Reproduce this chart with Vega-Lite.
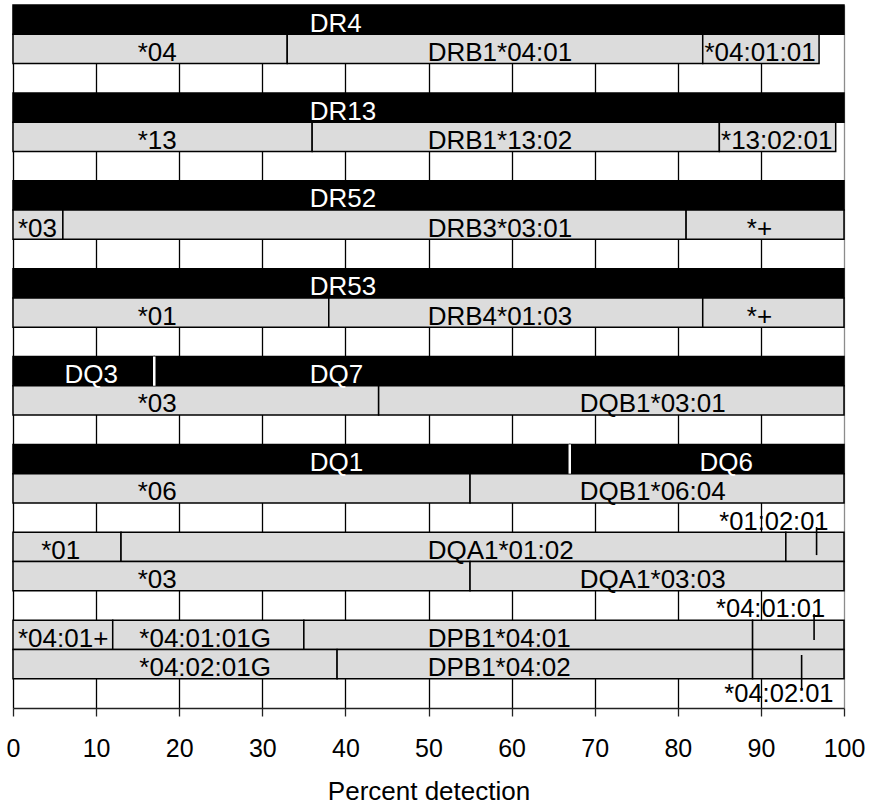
{
  "$schema": "https://vega.github.io/schema/vega-lite/v6.json",
  "width": 831,
  "height": 703,
  "autosize": {"type": "none"},
  "padding": {"left": 13, "top": 5, "right": 27, "bottom": 98},
  "background": "white",
  "config": {
    "view": {"stroke": null},
    "font": "Liberation Sans",
    "axisX": {
      "tickCount": 10,
      "grid": true,
      "gridColor": {"condition": {"test": "datum.value == 100", "value": "#8c8c8c"}, "value": "#000000"},
      "gridWidth": 1.3,
      "gridOpacity": 1,
      "domainColor": "#222222",
      "domainWidth": 1.5,
      "tickColor": "#222222",
      "tickWidth": 1.3,
      "tickSize": 8,
      "labelFont": "Liberation Sans",
      "labelFontSize": 25,
      "labelColor": "#000000",
      "labelPadding": 20,
      "labelFlush": false,
      "labelOverlap": false,
      "titleFont": "Liberation Sans",
      "titleFontSize": 26,
      "titleFontWeight": "normal",
      "titleColor": "#000000",
      "titleBaseline": "alphabetic",
      "titleY": 91
    }
  },
  "datasets": {
    "segs": [
      {"row": 1, "kind": "black", "x0": 0, "x1": 100, "label": "DR4", "lx": 35.7},
      {"row": 2, "kind": "grey", "x0": 0, "x1": 33, "label": "*04", "lx": 15.0},
      {"row": 2, "kind": "grey", "x0": 33, "x1": 83, "label": "DRB1*04:01", "lx": 49.9},
      {"row": 2, "kind": "grey", "x0": 83, "x1": 97, "label": "*04:01:01", "lx": 83.2},
      {"row": 4, "kind": "black", "x0": 0, "x1": 100, "label": "DR13", "lx": 35.7},
      {"row": 5, "kind": "grey", "x0": 0, "x1": 36, "label": "*13", "lx": 15.0},
      {"row": 5, "kind": "grey", "x0": 36, "x1": 85, "label": "DRB1*13:02", "lx": 49.9},
      {"row": 5, "kind": "grey", "x0": 85, "x1": 99, "label": "*13:02:01", "lx": 85.2},
      {"row": 7, "kind": "black", "x0": 0, "x1": 100, "label": "DR52", "lx": 35.7},
      {"row": 8, "kind": "grey", "x0": 0, "x1": 6, "label": "*03", "lx": 0.6},
      {"row": 8, "kind": "grey", "x0": 6, "x1": 81, "label": "DRB3*03:01", "lx": 49.9},
      {"row": 8, "kind": "grey", "x0": 81, "x1": 100, "label": "*+", "lx": 88.3},
      {"row": 10, "kind": "black", "x0": 0, "x1": 100, "label": "DR53", "lx": 35.7},
      {"row": 11, "kind": "grey", "x0": 0, "x1": 38, "label": "*01", "lx": 15.0},
      {"row": 11, "kind": "grey", "x0": 38, "x1": 83, "label": "DRB4*01:03", "lx": 49.9},
      {"row": 11, "kind": "grey", "x0": 83, "x1": 100, "label": "*+", "lx": 88.3},
      {"row": 13, "kind": "black", "x0": 0, "x1": 17, "label": "DQ3", "lx": 6.2},
      {"row": 13, "kind": "black", "x0": 17, "x1": 100, "label": "DQ7", "lx": 35.7},
      {"row": 14, "kind": "grey", "x0": 0, "x1": 44, "label": "*03", "lx": 15.0},
      {"row": 14, "kind": "grey", "x0": 44, "x1": 100, "label": "DQB1*03:01", "lx": 68.2},
      {"row": 16, "kind": "black", "x0": 0, "x1": 67, "label": "DQ1", "lx": 35.7},
      {"row": 16, "kind": "black", "x0": 67, "x1": 100, "label": "DQ6", "lx": 82.6},
      {"row": 17, "kind": "grey", "x0": 0, "x1": 55, "label": "*06", "lx": 15.0},
      {"row": 17, "kind": "grey", "x0": 55, "x1": 100, "label": "DQB1*06:04", "lx": 68.2},
      {"row": 19, "kind": "grey", "x0": 0, "x1": 13, "label": "*01", "lx": 3.4},
      {"row": 19, "kind": "grey", "x0": 13, "x1": 93, "label": "DQA1*01:02", "lx": 49.9},
      {"row": 19, "kind": "grey", "x0": 93, "x1": 100, "label": "", "lx": 96},
      {"row": 20, "kind": "grey", "x0": 0, "x1": 55, "label": "*03", "lx": 15.0},
      {"row": 20, "kind": "grey", "x0": 55, "x1": 100, "label": "DQA1*03:03", "lx": 68.2},
      {"row": 22, "kind": "grey", "x0": 0, "x1": 12, "label": "*04:01+", "lx": 0.6},
      {"row": 22, "kind": "grey", "x0": 12, "x1": 35, "label": "*04:01:01G", "lx": 15.2},
      {"row": 22, "kind": "grey", "x0": 35, "x1": 89, "label": "DPB1*04:01", "lx": 49.9},
      {"row": 22, "kind": "grey", "x0": 89, "x1": 100, "label": "", "lx": 94},
      {"row": 23, "kind": "grey", "x0": 0, "x1": 39, "label": "*04:02:01G", "lx": 15.2},
      {"row": 23, "kind": "grey", "x0": 39, "x1": 89, "label": "DPB1*04:02", "lx": 49.9},
      {"row": 23, "kind": "grey", "x0": 89, "x1": 100, "label": "", "lx": 94}
    ],
    "notes": [
      {"row": 18, "label": "*01:02:01", "lx": 85.0},
      {"row": 21, "label": "*04:01:01", "lx": 84.6},
      {"row": 24, "label": "*04:02:01", "lx": 85.6}
    ],
    "leaders": [
      {"x": 96.7, "ya": 17.82, "yb": 18.78},
      {"x": 96.4, "ya": 20.79, "yb": 21.68},
      {"x": 94.9, "ya": 22.19, "yb": 23.38}
    ],
    "splits": [
      {"x": 17, "ya": 12, "yb": 13},
      {"x": 67, "ya": 15, "yb": 16}
    ]
  },
  "resolve": {"scale": {"y": "independent"}},
  "layer": [
    {
      "data": {"name": "segs"},
      "mark": {"type": "bar", "stroke": "#000000", "strokeWidth": 1.5},
      "encoding": {
        "x": {"field": "x0", "type": "quantitative", "scale": {"domain": [0, 100], "nice": false}, "title": "Percent detection"},
        "x2": {"field": "x1"},
        "y": {
          "field": "row", "type": "ordinal",
          "scale": {"domain": [1,2,3,4,5,6,7,8,9,10,11,12,13,14,15,16,17,18,19,20,21,22,23,24], "paddingInner": 0, "paddingOuter": 0},
          "axis": null
        },
        "color": {
          "field": "kind", "type": "nominal",
          "scale": {"domain": ["black", "grey"], "range": ["#000000", "#dcdcdc"]},
          "legend": null
        }
      }
    },
    {
      "data": {"name": "splits"},
      "mark": {"type": "rule", "color": "#ffffff", "strokeWidth": 2.5},
      "encoding": {
        "x": {"field": "x", "type": "quantitative", "scale": {"domain": [0, 100], "nice": false}, "title": "Percent detection"},
        "y": {"field": "ya", "type": "quantitative", "scale": {"domain": [24, 0], "nice": false, "zero": false}, "axis": null},
        "y2": {"field": "yb"}
      }
    },
    {
      "data": {"name": "segs"},
      "transform": [{"filter": "datum.label != ''"}],
      "mark": {"type": "text", "align": "left", "baseline": "middle", "dy": 4, "fontSize": 26, "font": "Liberation Sans"},
      "encoding": {
        "x": {"field": "lx", "type": "quantitative", "scale": {"domain": [0, 100], "nice": false}, "title": "Percent detection"},
        "y": {
          "field": "row", "type": "ordinal",
          "scale": {"domain": [1,2,3,4,5,6,7,8,9,10,11,12,13,14,15,16,17,18,19,20,21,22,23,24], "paddingInner": 0, "paddingOuter": 0},
          "axis": null
        },
        "text": {"field": "label"},
        "color": {"condition": {"test": "datum.kind == 'black'", "value": "#ffffff"}, "value": "#000000"}
      }
    },
    {
      "data": {"name": "notes"},
      "transform": [{"filter": "datum.row < 24"}],
      "mark": {"type": "text", "align": "left", "baseline": "alphabetic", "dy": 12, "fontSize": 25.5, "font": "Liberation Sans", "color": "#000000"},
      "encoding": {
        "x": {"field": "lx", "type": "quantitative", "scale": {"domain": [0, 100], "nice": false}, "title": "Percent detection"},
        "y": {
          "field": "row", "type": "ordinal",
          "scale": {"domain": [1,2,3,4,5,6,7,8,9,10,11,12,13,14,15,16,17,18,19,20,21,22,23,24], "paddingInner": 0, "paddingOuter": 0},
          "axis": null
        },
        "text": {"field": "label"}
      }
    },
    {
      "data": {"name": "notes"},
      "transform": [{"filter": "datum.row == 24"}],
      "mark": {"type": "text", "align": "left", "baseline": "alphabetic", "dy": 8.3, "fontSize": 25.5, "font": "Liberation Sans", "color": "#000000"},
      "encoding": {
        "x": {"field": "lx", "type": "quantitative", "scale": {"domain": [0, 100], "nice": false}, "title": "Percent detection"},
        "y": {
          "field": "row", "type": "ordinal",
          "scale": {"domain": [1,2,3,4,5,6,7,8,9,10,11,12,13,14,15,16,17,18,19,20,21,22,23,24], "paddingInner": 0, "paddingOuter": 0},
          "axis": null
        },
        "text": {"field": "label"}
      }
    },
    {
      "data": {"name": "leaders"},
      "mark": {"type": "rule", "color": "#000000", "strokeWidth": 1.6},
      "encoding": {
        "x": {"field": "x", "type": "quantitative", "scale": {"domain": [0, 100], "nice": false}, "title": "Percent detection"},
        "y": {"field": "ya", "type": "quantitative", "scale": {"domain": [24, 0], "nice": false, "zero": false}, "axis": null},
        "y2": {"field": "yb"}
      }
    }
  ]
}
